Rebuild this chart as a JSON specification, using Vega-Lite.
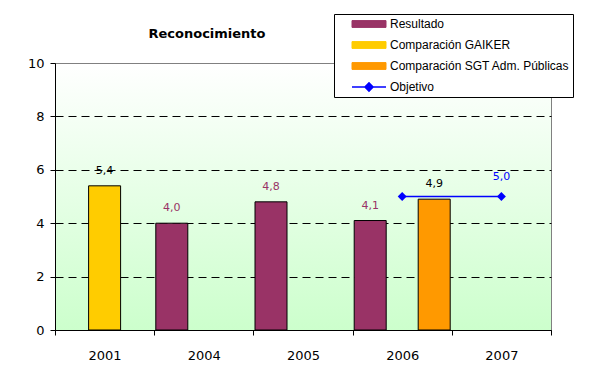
{
  "$schema": "https://vega.github.io/schema/vega-lite/v6.json",
  "autosize": "none",
  "width": 496,
  "height": 267,
  "padding": {"left": 55, "top": 63, "right": 39, "bottom": 48},
  "background": "white",
  "title": {
    "text": "Reconocimiento",
    "font": "DejaVu Sans",
    "fontSize": 13,
    "fontWeight": "bold",
    "color": "black",
    "anchor": "middle",
    "frame": "group",
    "dx": -96,
    "offset": -27
  },
  "config": {
    "locale": {"number": {"decimal": ",", "thousands": ".", "grouping": [3], "currency": ["", " €"]}},
    "view": {
      "stroke": "#808080",
      "strokeWidth": 1,
      "fill": {"gradient": "linear", "x1": 0, "y1": 0, "x2": 0, "y2": 1,
        "stops": [{"offset": 0, "color": "#ffffff"}, {"offset": 1, "color": "#ccffcc"}]}
    },
    "axis": {
      "labelFont": "DejaVu Sans",
      "labelFontSize": 13,
      "labelColor": "black",
      "domainColor": "black",
      "tickColor": "black",
      "tickSize": 5,
      "title": null
    }
  },
  "data": {
    "values": [
      {"year": "2001", "series": "Comparación GAIKER", "value": 5.4},
      {"year": "2004", "series": "Resultado", "value": 4.0},
      {"year": "2005", "series": "Resultado", "value": 4.8},
      {"year": "2006", "series": "Resultado", "value": 4.1},
      {"year": "2006", "series": "Comparación SGT Adm. Públicas", "value": 4.9},
      {"year": "2006", "series": "Objetivo", "value": 5.0},
      {"year": "2007", "series": "Objetivo", "value": 5.0}
    ]
  },
  "encoding": {
    "x": {
      "field": "year",
      "type": "nominal",
      "sort": ["2001", "2004", "2005", "2006", "2007"],
      "scale": {"domain": ["2001", "2004", "2005", "2006", "2007"], "paddingInner": 0, "paddingOuter": 0},
      "axis": {"labelAngle": 0, "tickBand": "extent", "labelPadding": 14, "grid": false}
    },
    "y": {
      "field": "value",
      "type": "quantitative",
      "scale": {"domain": [0, 10], "nice": false},
      "axis": {
        "values": [0, 2, 4, 6, 8, 10],
        "labelPadding": 6,
        "grid": true,
        "gridColor": {"condition": {"test": "datum.value >= 10", "value": "#808080"}, "value": "black"},
        "gridDash": {"condition": {"test": "datum.value >= 10", "value": [1, 0]}, "value": [8, 5]},
        "gridWidth": 1
      }
    }
  },
  "layer": [
    {
      "transform": [{"filter": "datum.series !== 'Objetivo'"}],
      "mark": {"type": "bar", "stroke": "black", "strokeWidth": 1},
      "encoding": {
        "xOffset": {
          "field": "series",
          "type": "nominal",
          "scale": {"domain": ["Resultado", "Comparación GAIKER", "Comparación SGT Adm. Públicas"], "paddingInner": 0, "paddingOuter": 0.05}
        },
        "color": {
          "field": "series",
          "type": "nominal",
          "scale": {
            "domain": ["Resultado", "Comparación GAIKER", "Comparación SGT Adm. Públicas", "Objetivo"],
            "range": ["#993366", "#ffcc00", "#ff9900", "#0000ff"]
          },
          "legend": {
            "title": null,
            "orient": "none",
            "legendX": 279,
            "legendY": -49,
            "strokeColor": "black",
            "fillColor": "white",
            "padding": 3,
            "symbolOffset": 26,
            "labelOffset": 15,
            "labelFont": "Liberation Sans",
            "labelFontSize": 12,
            "labelColor": "black",
            "labelLimit": 300,
            "rowPadding": 7,
            "clipHeight": 14,
            "symbolSize": 1156,
            "symbolType": {"expr": "datum.label === 'Objetivo' ? 'M-1,0H1M-0.24,0L0,-0.24L0.24,0L0,0.24Z' : 'M-1,-0.2H1V0.2H-1Z'"},
            "symbolStrokeColor": {"expr": "datum.label === 'Objetivo' ? '#0000ff' : '#000000'"},
            "symbolStrokeWidth": {"expr": "datum.label === 'Objetivo' ? 1.5 : 1"}
          }
        }
      }
    },
    {
      "transform": [{"filter": "datum.series !== 'Objetivo'"}],
      "mark": {"type": "text", "baseline": "bottom", "dy": -10, "font": "DejaVu Sans", "fontSize": 11},
      "encoding": {
        "xOffset": {
          "field": "series",
          "type": "nominal",
          "scale": {"domain": ["Resultado", "Comparación GAIKER", "Comparación SGT Adm. Públicas"], "paddingInner": 0, "paddingOuter": 0.05}
        },
        "text": {"field": "value", "type": "quantitative", "format": ".1f"},
        "color": {
          "condition": {"test": "datum.series === 'Resultado'", "value": "#993366"},
          "value": "black"
        }
      }
    },
    {
      "transform": [{"filter": "datum.series === 'Objetivo'"}],
      "mark": {"type": "line", "strokeWidth": 1.5, "point": {"shape": "diamond", "size": 80, "filled": true, "color": "#0000ff"}},
      "encoding": {
        "color": {"field": "series", "type": "nominal", "legend": null}
      }
    },
    {
      "transform": [{"filter": "datum.series === 'Objetivo' && datum.year === '2007'"}],
      "mark": {"type": "text", "baseline": "bottom", "dy": -15, "font": "DejaVu Sans", "fontSize": 11, "color": "#0000ff"},
      "encoding": {
        "text": {"field": "value", "type": "quantitative", "format": ".1f"}
      }
    }
  ]
}
